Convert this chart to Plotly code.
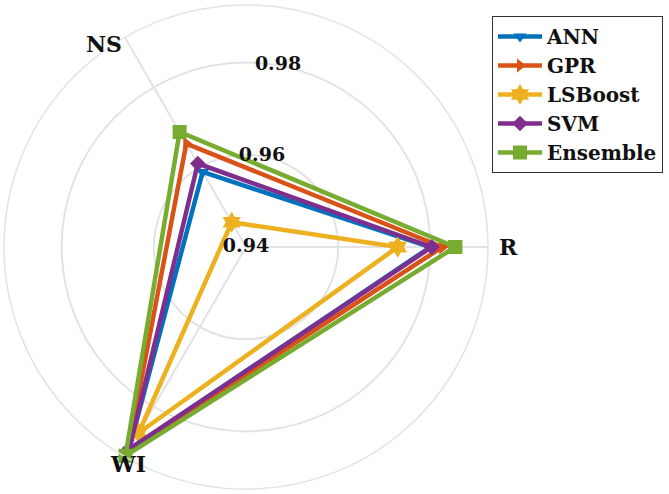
import math
import plotly.graph_objects as go

# ---- data ----
axes_labels = ["R", "NS", "WI"]
axes_angles = [0, 120, 240]
models = ["ANN", "GPR", "LSBoost", "SVM", "Ensemble"]
ann = [0.9800, 0.9588, 0.9908]
gpr = [0.9826, 0.9659, 0.9914]
lsboost = [0.9729, 0.9462, 0.9866]
svm = [0.9803, 0.9609, 0.9906]
ensemble = [0.9854, 0.9688, 0.9923]
radial_ticks = [0.94, 0.96, 0.98]
radial_range = [0.94, 0.9925]

series = [ann, gpr, lsboost, svm, ensemble]
colors = ["#0072BD", "#D95319", "#EDB120", "#7E2F8E", "#77AC30"]
symbols = ["triangle-down", "triangle-right", "hexagram", "diamond", "square"]
sizes = [12, 12, 16, 12, 14]

FONT = "DejaVu Serif"

W, H = 669, 494
cx, cy, R = 246, 247, 242

fig = go.Figure()
for name, vals, c, s, sz in zip(models, series, colors, symbols, sizes):
    fig.add_trace(go.Scatterpolar(
        r=vals + vals[:1],
        theta=axes_angles + axes_angles[:1],
        mode="lines+markers",
        name="<b>%s</b>" % name,
        line=dict(color=c, width=4.5),
        marker=dict(symbol=s, size=sz, color=c, line=dict(color=c, width=0)),
        cliponaxis=False,
    ))

# radial tick labels placed along a spoke
fig.add_trace(go.Scatterpolar(
    r=radial_ticks,
    theta=[80] * len(radial_ticks),
    mode="text",
    text=["<b>%.2f</b>" % v for v in radial_ticks],
    textfont=dict(family=FONT, size=19, color="#111"),
    showlegend=False,
    hoverinfo="skip",
    cliponaxis=False,
))

# axis name labels just outside the outer ring (layout annotations)
label_dist_px = [262, 248, 247]
label_angles = [0, 125, 241.5]
annotations = []
for t, d, a in zip(axes_labels, label_dist_px, label_angles):
    x = cx + d * math.cos(math.radians(a))
    y = cy - d * math.sin(math.radians(a))
    annotations.append(dict(
        x=x / W, y=1 - y / H, xref="paper", yref="paper",
        text="<b>%s</b>" % t, showarrow=False,
        xanchor="center", yanchor="middle",
        font=dict(family=FONT, size=22, color="#111"),
    ))

fig.update_layout(
    width=W, height=H,
    margin=dict(l=0, r=0, t=0, b=0),
    paper_bgcolor="white",
    plot_bgcolor="white",
    font=dict(family=FONT),
    annotations=annotations,
    polar=dict(
        domain=dict(x=[(cx - R) / W, (cx + R) / W], y=[1 - (cy + R) / H, 1 - (cy - R) / H]),
        bgcolor="white",
        radialaxis=dict(
            range=radial_range,
            tickvals=radial_ticks,
            showticklabels=False,
            ticks="",
            showline=False,
            gridcolor="#e3e3e3",
            gridwidth=1.5,
        ),
        angularaxis=dict(
            direction="counterclockwise",
            rotation=0,
            tickvals=axes_angles,
            showticklabels=False,
            ticks="",
            showline=True,
            linecolor="#e3e3e3",
            linewidth=1.5,
            gridcolor="#e3e3e3",
            gridwidth=1.5,
        ),
    ),
    legend=dict(
        x=492 / W, y=1 - 16 / H, xanchor="left", yanchor="top",
        bordercolor="#333", borderwidth=1, bgcolor="white",
        font=dict(family=FONT, size=20, color="#111"),
        tracegroupgap=0,
        itemwidth=44,
    ),
)

fig.write_html("out.html")
